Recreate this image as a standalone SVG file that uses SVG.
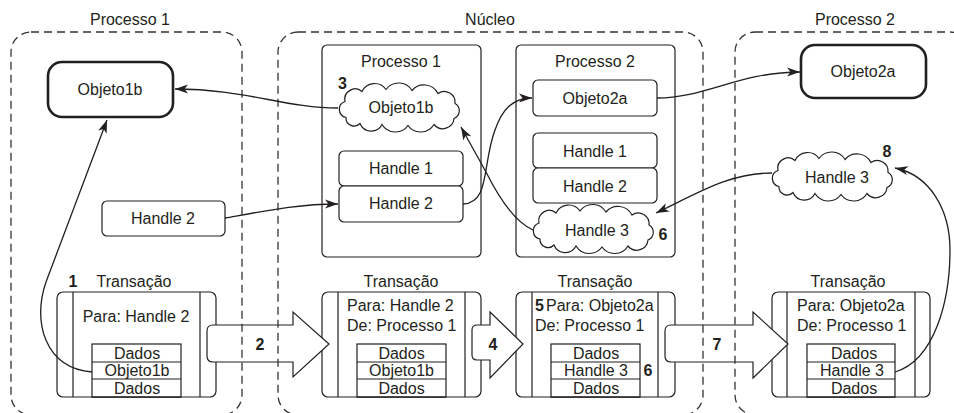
<svg xmlns="http://www.w3.org/2000/svg" width="954" height="413" viewBox="0 0 954 413">
<style>
text{font-family:"Liberation Sans",Arial,sans-serif;font-size:16px;fill:#231f20}
.c{text-anchor:middle}
.b{font-weight:bold}
.dash{fill:none;stroke:#333;stroke-width:1.3;stroke-dasharray:8,5}
.box{fill:#fff;stroke:#231f20;stroke-width:1.2}
.thick{fill:#fff;stroke:#231f20;stroke-width:2.6}
.ln{fill:none;stroke:#231f20;stroke-width:1.2}
.con{fill:none;stroke:#231f20;stroke-width:1.3;marker-end:url(#ah)}
.big{fill:#fff;stroke:#231f20;stroke-width:1.2}
</style>
<defs>
<marker id="ah" markerUnits="userSpaceOnUse" markerWidth="14" markerHeight="10" refX="13" refY="5" orient="auto">
<path d="M0,0.5 L13,5 L0,9.5 L3.5,5 Z" fill="#231f20"/>
</marker>
<path id="cloud" d="M-54,10 A8.3,8.3 0 0 1 -55,-6 A10.4,10.4 0 0 1 -38,-16 A13.9,13.9 0 0 1 -14,-18 A15.6,15.6 0 0 1 12,-17 A15.7,15.7 0 0 1 38,-14 A10.8,10.8 0 0 1 55,-4 A8.3,8.3 0 0 1 54,11 A11.3,11.3 0 0 1 34,17 A15.6,15.6 0 0 1 8,18 A15.6,15.6 0 0 1 -18,17 A12.1,12.1 0 0 1 -40,16 A8.1,8.1 0 0 1 -54,10 Z" fill="#fff" stroke="#231f20" stroke-width="1.2"/>
</defs>

<!-- titles -->
<g id="titles">
<text class="c" x="130" y="25">Processo 1</text>
<text class="c" x="490" y="25">Núcleo</text>
<text class="c" x="855" y="25">Processo 2</text>
</g>

<!-- kernel process boxes -->
<g id="kproc1">
<rect x="322" y="45" width="159" height="212" rx="5" class="box"/>
<text class="c" x="401" y="67">Processo 1</text>
</g>
<g id="kproc2">
<rect x="516" y="45" width="159" height="212" rx="5" class="box"/>
<text class="c" x="595" y="67">Processo 2</text>
</g>

<g id="objeto1b-p1">
<rect x="48" y="62" width="125" height="55" rx="14" class="thick"/>
<text class="c" x="110" y="95">Objeto1b</text>
</g>
<g id="objeto2a-p2">
<rect x="801" y="45" width="125" height="53" rx="14" class="thick"/>
<text class="c" x="863" y="77">Objeto2a</text>
</g>

<g id="handle2-p1">
<rect x="102" y="201" width="123" height="35" rx="5" class="box"/>
<text class="c" x="163" y="224">Handle 2</text>
</g>

<g id="k1-objeto1b">
<use href="#cloud" transform="translate(400,107.5)"/>
<text class="c" x="401" y="113">Objeto1b</text>
<text class="b" x="338" y="89">3</text>
</g>
<g id="k1-handle1">
<rect x="339" y="151" width="124" height="35" rx="5" class="box"/>
<text class="c" x="401" y="174">Handle 1</text>
</g>
<g id="k1-handle2">
<rect x="339" y="186" width="124" height="36" rx="5" class="box"/>
<text class="c" x="401" y="209">Handle 2</text>
</g>

<g id="k2-objeto2a">
<rect x="533" y="80" width="124" height="36" rx="5" class="box"/>
<text class="c" x="595" y="104">Objeto2a</text>
</g>
<g id="k2-handle1">
<rect x="533" y="133" width="124" height="35" rx="5" class="box"/>
<text class="c" x="595" y="157">Handle 1</text>
</g>
<g id="k2-handle2">
<rect x="533" y="168" width="124" height="35" rx="5" class="box"/>
<text class="c" x="595" y="192">Handle 2</text>
</g>
<g id="k2-handle3">
<use href="#cloud" transform="translate(594,229)"/>
<text class="c" x="597" y="236">Handle 3</text>
<text class="b c" x="663" y="240">6</text>
</g>

<g id="p2-handle3">
<use href="#cloud" transform="translate(833,176.5)"/>
<text class="c" x="837" y="183">Handle 3</text>
<text class="b c" x="887" y="157">8</text>
</g>

<!-- transactions -->
<g id="tx1">
<text class="b c" x="73" y="287">1</text>
<text class="c" x="134" y="287">Transação</text>
<rect x="57" y="292" width="159" height="105" rx="6" class="box"/>
<path class="ln" d="M73,292 V397 M200,292 V397"/>
<text class="c" x="136" y="322">Para: Handle 2</text>
<rect x="92" y="344" width="89" height="53" class="box"/>
<path class="ln" d="M92,362 H181 M92,379 H181"/>
<path class="ln" d="M92,397 H181" stroke-width="2"/>
<text class="c" x="137" y="359">Dados</text>
<text class="c" x="137" y="376">Objeto1b</text>
<text class="c" x="137" y="394">Dados</text>
</g>

<g id="tx2">
<text class="c" x="401" y="287">Transação</text>
<rect x="322" y="292" width="159" height="105" rx="6" class="box"/>
<path class="ln" d="M338,292 V397 M465,292 V397"/>
<text x="347" y="311">Para: Handle 2</text>
<text x="347" y="331">De: Processo 1</text>
<rect x="357" y="344" width="89" height="53" class="box"/>
<path class="ln" d="M357,362 H446 M357,379 H446"/>
<path class="ln" d="M357,397 H446" stroke-width="2"/>
<text class="c" x="401.5" y="359">Dados</text>
<text class="c" x="401.5" y="376">Objeto1b</text>
<text class="c" x="401.5" y="394">Dados</text>
</g>

<g id="tx3">
<text class="c" x="595" y="287">Transação</text>
<rect x="516" y="292" width="159" height="105" rx="6" class="box"/>
<path class="ln" d="M532,292 V397 M658,292 V397"/>
<text class="b" x="535" y="311">5</text>
<text x="546" y="311">Para: Objeto2a</text>
<text x="535" y="331">De: Processo 1</text>
<rect x="551" y="344" width="89" height="53" class="box"/>
<path class="ln" d="M551,362 H640 M551,379 H640"/>
<path class="ln" d="M551,397 H640" stroke-width="2"/>
<text class="c" x="596" y="359">Dados</text>
<text class="c" x="596" y="376">Handle 3</text>
<text class="c" x="596" y="394">Dados</text>
<text class="b c" x="648" y="376">6</text>
</g>

<g id="tx4">
<text class="c" x="848" y="287">Transação</text>
<rect x="772" y="292" width="158" height="105" rx="6" class="box"/>
<path class="ln" d="M787,292 V397 M915,292 V397"/>
<text x="797" y="311">Para: Objeto2a</text>
<text x="797" y="331">De: Processo 1</text>
<rect x="807" y="344" width="88" height="53" class="box"/>
<path class="ln" d="M807,362 H895 M807,379 H895"/>
<path class="ln" d="M807,397 H895" stroke-width="2"/>
<text class="c" x="854" y="359">Dados</text>
<text class="c" x="852" y="376">Handle 3</text>
<text class="c" x="854" y="394">Dados</text>
</g>

<!-- big transfer arrows -->
<g id="arrow2">
<path class="big" d="M213,325 H293 V312 L329,344 L293,377 V362 H213 Q207,362 207,356 V331 Q207,325 213,325 Z"/>
<text class="b c" x="260" y="350">2</text>
</g>
<g id="arrow4">
<path class="big" d="M477,325 H490 V312 L523,344 L490,378 V360 H477 Q472,360 472,355 V330 Q472,325 477,325 Z"/>
<text class="b c" x="493" y="350">4</text>
</g>
<g id="arrow7">
<path class="big" d="M671,325 H753 V312 L788,344 L753,378 V362 H671 Q665,362 665,356 V331 Q665,325 671,325 Z"/>
<text class="b c" x="717" y="350">7</text>
</g>

<!-- dashed regions -->
<g id="regions">
<rect x="11" y="32" width="231" height="383" rx="20" class="dash"/>
<rect x="278" y="32" width="425" height="383" rx="20" class="dash"/>
<rect x="735" y="32" width="235" height="383" rx="20" class="dash"/>
</g>

<!-- connectors -->
<g id="connectors">
<path class="con" d="M92,372 C45,368 32,322 46,282 L107,120"/>
<path class="con" d="M338,108 C285,108 245,89 175,89"/>
<path class="con" d="M225,218 C270,210 300,204 338,204"/>
<path class="con" d="M463,204 C490,203 482,165 495,130 C502,110 512,98 532,98"/>
<path class="con" d="M533,230 C515,222 500,200 486,172 L461,127"/>
<path class="con" d="M657,98 C705,98 740,72 800,72"/>
<path class="con" d="M772,173 C730,173 700,192 656,213"/>
<path class="con" d="M895,372 C935,360 950,300 950,250 C950,210 930,175 895,168"/>
</g>
</svg>
